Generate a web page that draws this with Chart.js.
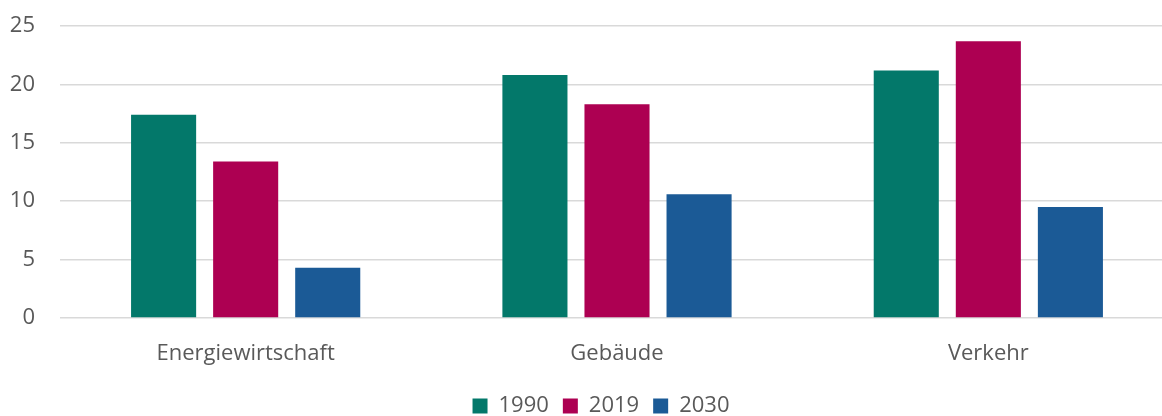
<!DOCTYPE html>
<html>
<head>
<meta charset="utf-8">
<script src="https://cdn.jsdelivr.net/npm/chart.js@4"></script>
<style>
  html, body { margin: 0; padding: 0; background: #fff; overflow: hidden; }
  #wrap { position: relative; width: 1202px; height: 427px; }
</style>
</head>
<body>
<div id="wrap"><canvas id="c"></canvas></div>
<script>
const categories = ['Energiewirtschaft', 'Gebäude', 'Verkehr'];
const seriesNames = ['1990', '2019', '2030'];
const values1990 = [17.4, 20.8, 21.2];
const values2019 = [13.4, 18.3, 23.7];
const values2030 = [4.3, 10.6, 9.5];
const yTicks = [0, 5, 10, 15, 20, 25];
const colors = ['#03786a', '#ad0052', '#1b5a96'];

const seriesValues = [values1990, values2019, values2030];
const FONT = "'Open Sans', sans-serif";
const TEXT = '#595959';

// centre the legend on the full (uncropped) chart width, as in the original
const legendShift = {
  id: 'legendShift',
  afterLayout(chart) {
    const lg = chart.legend;
    if (lg) { lg.left += 14; lg.right += 14; }
  }
};

new Chart(document.getElementById('c'), {
  type: 'bar',
  data: {
    labels: categories,
    datasets: seriesNames.map((name, i) => ({
      label: name,
      data: seriesValues[i],
      backgroundColor: colors[i],
      borderWidth: 0,
      categoryPercentage: 0.663,
      barPercentage: 0.793
    }))
  },
  plugins: [legendShift],
  options: {
    responsive: true,
    maintainAspectRatio: false,
    animation: false,
    layout: { padding: { top: 26, left: 0, right: 28, bottom: 0 } },
    plugins: {
      tooltip: { enabled: false },
      legend: {
        position: 'bottom',
        labels: {
          font: { family: FONT, size: 22 },
          color: TEXT,
          boxWidth: 15,
          boxHeight: 15,
          padding: 14
        }
      }
    },
    scales: {
      x: {
        grid: { display: false },
        border: { display: false },
        ticks: { font: { family: FONT, size: 22 }, color: TEXT, padding: 15, maxRotation: 0 },
        afterFit: (s) => { s.height = 63; }
      },
      y: {
        min: 0,
        max: 25,
        afterBuildTicks: (s) => { s.ticks = yTicks.map(v => ({ value: v })); },
        grid: { color: '#d9d9d9', lineWidth: 1.5, drawTicks: false },
        border: { display: false },
        ticks: { font: { family: FONT, size: 22 }, color: TEXT, padding: 25 },
        afterFit: (s) => { s.width = 60; s.paddingTop = 0; s.paddingBottom = 0; }
      }
    }
  }
});
</script>
</body>
</html>
